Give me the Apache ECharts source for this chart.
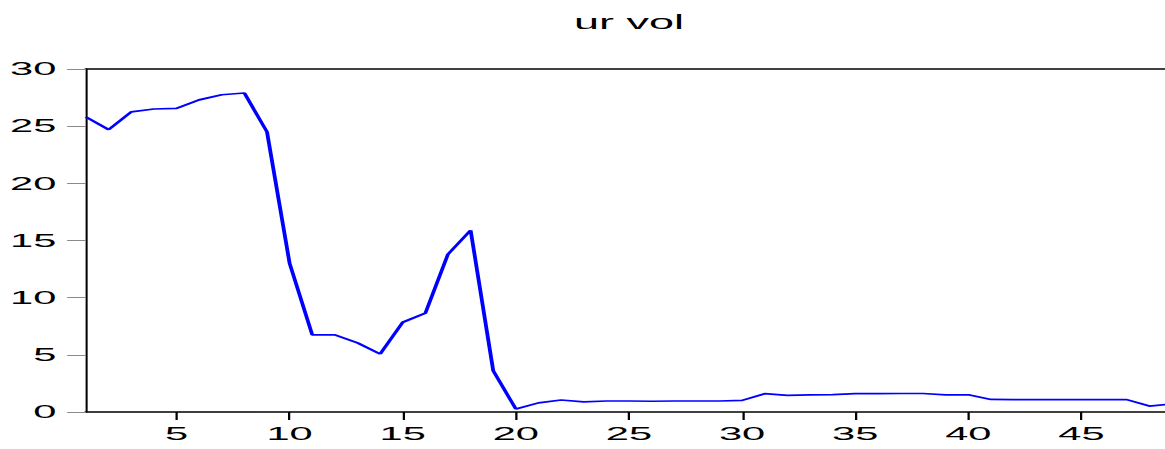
<!DOCTYPE html>
<html>
<head>
<meta charset="utf-8">
<script src="https://cdn.jsdelivr.net/npm/echarts@6/dist/echarts.min.js"></script>
<style>
  html, body { margin: 0; padding: 0; background: #fff; overflow: hidden; width: 1165px; height: 449px; }
  /* the chart is laid out narrow and widened horizontally, giving the wide lettering and strokes */
  #chart { width: 530px; height: 449px; transform: scaleX(2.25); transform-origin: 0 0; }
</style>
</head>
<body>
<div id="chart"></div>
<script>
// observation number (x) and "ur vol" level (y)
const periods = [1, 2, 3, 4, 5, 6, 7, 8, 9, 10, 11, 12, 13, 14, 15, 16, 17, 18, 19, 20,
  21, 22, 23, 24, 25, 26, 27, 28, 29, 30, 31, 32, 33, 34, 35, 36, 37, 38, 39, 40,
  41, 42, 43, 44, 45, 46, 47, 48, 49];
const urVol = [25.8, 24.7, 26.25, 26.5, 26.55, 27.3, 27.75, 27.9, 24.5, 13.0,
  6.75, 6.75, 6.05, 5.07, 7.85, 8.65, 13.8, 15.9, 3.6, 0.26,
  0.8, 1.05, 0.88, 0.96, 0.96, 0.94, 0.96, 0.96, 0.96, 1.02,
  1.6, 1.46, 1.5, 1.52, 1.6, 1.6, 1.62, 1.62, 1.5, 1.5,
  1.1, 1.08, 1.08, 1.08, 1.08, 1.08, 1.08, 0.52, 0.7];
const xTicks = [5, 10, 15, 20, 25, 30, 35, 40, 45];
const yTicks = [0, 5, 10, 15, 20, 25, 30];

const S = 2.25;               // horizontal stretch applied by CSS
const gridLeft = 86 / S;
const gridWidth = (1172 - 86) / S;

const font = "'Liberation Sans', Arial, Helvetica, sans-serif";
const chart = echarts.init(document.getElementById('chart'), null, { renderer: 'svg', width: 530, height: 449 });

chart.setOption({
  animation: false,
  backgroundColor: '#fff',
  graphic: [{
    type: 'text',
    x: gridLeft + gridWidth / 2,
    y: 12,
    style: {
      text: 'ur vol',
      align: 'center',
      verticalAlign: 'top',
      fontFamily: font,
      fontSize: 20,
      fill: '#000'
    }
  }],
  grid: { left: gridLeft, width: gridWidth, top: 69, bottom: 37, containLabel: false },
  xAxis: [{
    type: 'value',
    min: 1,
    max: 49,
    splitLine: { show: false },
    axisLine: { show: true, onZero: false, lineStyle: { color: '#000', width: 1.5 } },
    axisTick: { show: true, length: 8, customValues: xTicks, lineStyle: { color: '#000', width: 1 } },
    axisLabel: { customValues: xTicks, margin: 12, fontFamily: font, fontSize: 18.5, color: '#000' }
  }, {
    type: 'value',
    position: 'top',
    min: 1,
    max: 49,
    splitLine: { show: false },
    axisLine: { show: true, onZero: false, lineStyle: { color: '#000', width: 1.5 } },
    axisTick: { show: false },
    axisLabel: { show: false }
  }],
  yAxis: {
    type: 'value',
    min: 0,
    max: 30,
    interval: 5,
    splitLine: { show: false },
    axisLine: { show: true, onZero: false, lineStyle: { color: '#000', width: 0.9 } },
    axisTick: { show: true, length: 8.4, lineStyle: { color: '#8a8a8a', width: 1 } },
    axisLabel: {
      margin: 13.2, fontFamily: font, fontSize: 18.5, color: '#000',
      customValues: yTicks
    }
  },
  series: [{
    type: 'line',
    xAxisIndex: 0,
    data: periods.map((p, i) => [p, urVol[i]]),
    showSymbol: false,
    symbol: 'none',
    clip: true,
    lineStyle: { color: '#0000ff', width: 1.7 },
    itemStyle: { color: '#0000ff' }
  }]
});
</script>
</body>
</html>
